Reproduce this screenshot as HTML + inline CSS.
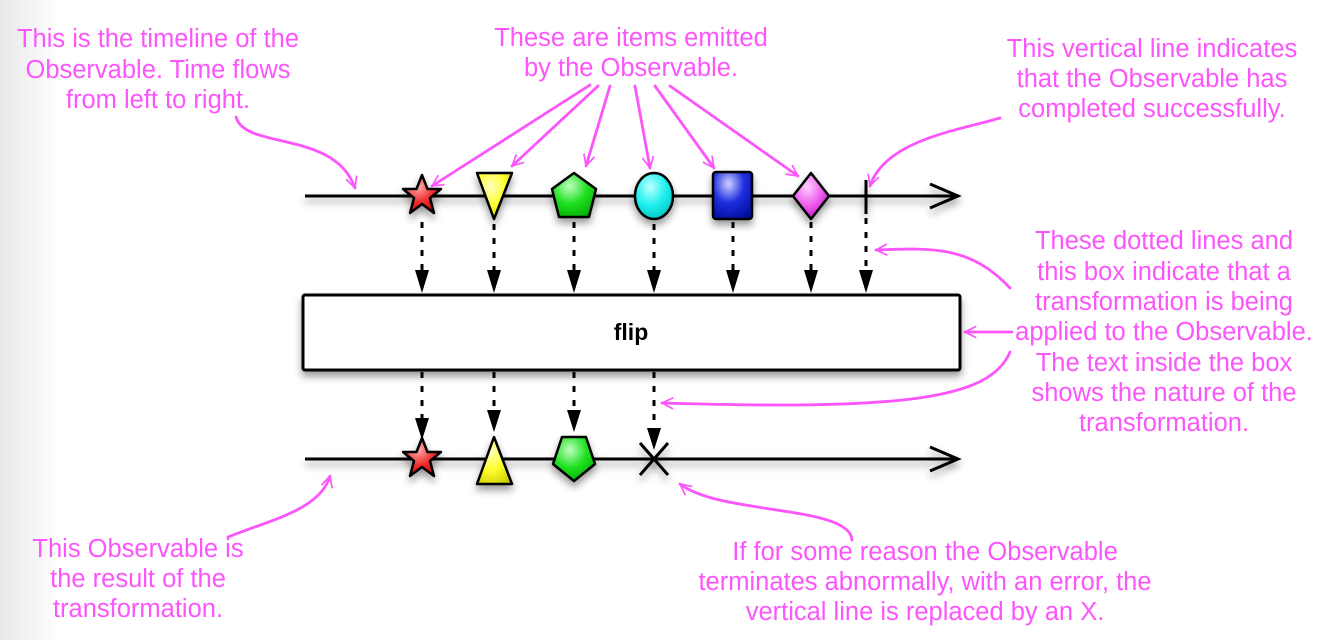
<!DOCTYPE html>
<html><head><meta charset="utf-8"><style>
html,body{margin:0;padding:0;background:#fff}
svg{display:block}
text{font-family:"Liberation Sans",sans-serif}
.p{fill:#fb55fb;font-size:25.5px;text-anchor:middle}
.pa{fill:none;stroke:#fb55fb;stroke-width:2.8;stroke-linecap:round}
.d{stroke:#000;stroke-width:3;stroke-dasharray:6 8}
</style></head><body>
<svg width="1336" height="640" viewBox="0 0 1336 640" xmlns="http://www.w3.org/2000/svg">
<defs>
<linearGradient id="bg" x1="0" x2="1"><stop offset="0" stop-color="#e8e8e8"/><stop offset="1" stop-color="#fff"/></linearGradient>
<radialGradient id="gr" cx="0.4" cy="0.3" r="0.8"><stop offset="0" stop-color="#ffb0b0"/><stop offset="0.5" stop-color="#f03030"/><stop offset="1" stop-color="#c00"/></radialGradient>
<radialGradient id="gy" cx="0.4" cy="0.3" r="0.8"><stop offset="0" stop-color="#ffffc0"/><stop offset="0.5" stop-color="#ffff30"/><stop offset="1" stop-color="#cc0"/></radialGradient>
<radialGradient id="gg" cx="0.4" cy="0.3" r="0.8"><stop offset="0" stop-color="#c0ffc0"/><stop offset="0.5" stop-color="#20e020"/><stop offset="1" stop-color="#0a0"/></radialGradient>
<radialGradient id="gc" cx="0.4" cy="0.3" r="0.8"><stop offset="0" stop-color="#c0ffff"/><stop offset="0.5" stop-color="#20f0f0"/><stop offset="1" stop-color="#0bb"/></radialGradient>
<radialGradient id="gb" cx="0.4" cy="0.25" r="0.8"><stop offset="0" stop-color="#d0d0ff"/><stop offset="0.5" stop-color="#2030e0"/><stop offset="1" stop-color="#0010a0"/></radialGradient>
<radialGradient id="gm" cx="0.4" cy="0.3" r="0.8"><stop offset="0" stop-color="#ffd0ff"/><stop offset="0.5" stop-color="#f060f0"/><stop offset="1" stop-color="#b0b"/></radialGradient>
<marker id="m" viewBox="0 0 20 20" refX="18" refY="10" markerWidth="14" markerHeight="14" markerUnits="userSpaceOnUse" orient="auto"><path d="M2,2 L18,10 L2,18" fill="none" stroke="#fb55fb" stroke-width="2.4"/></marker>
<filter id="sh" x="-20%" y="-20%" width="140%" height="160%"><feDropShadow dx="0" dy="5" stdDeviation="4" flood-opacity="0.4"/></filter>
</defs>
<rect width="1336" height="640" fill="#fff"/>
<rect width="60" height="640" fill="url(#bg)"/>

<g filter="url(#sh)">
<line x1="305" y1="196" x2="956" y2="196" stroke="#000" stroke-width="3"/>
<path d="M930,184 L958,196 L930,208" fill="none" stroke="#000" stroke-width="3"/>
<line x1="305" y1="459" x2="956" y2="459" stroke="#000" stroke-width="3"/>
<path d="M930,447 L958,459 L930,471" fill="none" stroke="#000" stroke-width="3"/>
</g>

<g>
<line class="d" x1="422" y1="222" x2="422" y2="272"/>
<line class="d" x1="494" y1="224" x2="494" y2="272"/>
<line class="d" x1="574" y1="222" x2="574" y2="272"/>
<line class="d" x1="654" y1="224" x2="654" y2="272"/>
<line class="d" x1="733" y1="222" x2="733" y2="272"/>
<line class="d" x1="811" y1="222" x2="811" y2="272"/>
<line class="d" x1="866" y1="218" x2="866" y2="272"/>
<g fill="#000">
<path d="M415,270 L429,270 L422,293Z"/><path d="M487,270 L501,270 L494,293Z"/><path d="M567,270 L581,270 L574,293Z"/><path d="M647,270 L661,270 L654,293Z"/><path d="M726,270 L740,270 L733,293Z"/><path d="M804,270 L818,270 L811,293Z"/><path d="M859,270 L873,270 L866,293Z"/>
</g>
<line class="d" x1="422" y1="372" x2="422" y2="418"/>
<line class="d" x1="494" y1="372" x2="494" y2="410"/>
<line class="d" x1="574" y1="372" x2="574" y2="410"/>
<line class="d" x1="654" y1="372" x2="654" y2="430"/>
<g fill="#000">
<path d="M415,418 L429,418 L422,440Z"/><path d="M487,410 L501,410 L494,432Z"/><path d="M567,410 L581,410 L574,432Z"/><path d="M647,428 L661,428 L654,450Z"/>
</g>
</g>

<rect x="303" y="295" width="657" height="75" rx="2" fill="#fff" stroke="#000" stroke-width="3" filter="url(#sh)"/>
<text x="631" y="340" font-size="23" font-weight="bold" text-anchor="middle">flip</text>

<g stroke="#000" stroke-width="2.5" stroke-linejoin="round" filter="url(#sh)">
<path d="M422,175 L427.5,189 L441,189 L430,198 L434,213 L422,204 L410,213 L414,198 L403,189 L416.5,189Z" fill="url(#gr)"/>
<path d="M477,173 L512,173 L494,219Z" fill="url(#gy)"/>
<path d="M574,173 L596,189 L589,217 L559,217 L552,189Z" fill="url(#gg)"/>
<ellipse cx="654" cy="196" rx="19" ry="23" fill="url(#gc)"/>
<rect x="713" y="172" width="39" height="47" rx="3" fill="url(#gb)"/>
<path d="M811,173 L829,196 L811,219 L793,196Z" fill="url(#gm)"/>
<line x1="866" y1="180" x2="866" y2="214" stroke-width="3"/>
</g>

<g stroke="#000" stroke-width="2.5" stroke-linejoin="round" filter="url(#sh)">
<path d="M422,438 L427.5,452 L441,452 L430,461 L434,476 L422,467 L410,476 L414,461 L403,452 L416.5,452Z" fill="url(#gr)"/>
<path d="M494,437 L512,484 L477,484Z" fill="url(#gy)"/>
<path d="M562,437 L586,437 L595,464 L574,481 L553,464Z" fill="url(#gg)"/>
<path d="M640,443 L668,475 M668,443 L640,475" stroke-width="3"/>
</g>

<g class="pa" marker-end="url(#m)">
<path class="pa" d="M236,117 C245,150 335,130 355,188"/>
<path class="pa" d="M590,85 L432,186"/>
<path class="pa" d="M598,86 L512,166"/>
<path class="pa" d="M610,86 L586,166"/>
<path class="pa" d="M635,86 L650,168"/>
<path class="pa" d="M655,86 L714,168"/>
<path class="pa" d="M670,86 L798,176"/>
<path class="pa" d="M1000,118 C960,130 885,140 870,186"/>
<path class="pa" d="M1010,288 C970,245 930,248 876,250"/>
<path class="pa" d="M1012,332 L965,332"/>
<path class="pa" d="M1010,352 C990,400 900,410 662,403"/>
<path class="pa" d="M228,537 C270,520 320,510 330,476"/>
<path class="pa" d="M852,540 C850,505 720,515 680,484"/>
</g>

<text class="p" x="158" y="47">This is the timeline of the</text>
<text class="p" x="158" y="78">Observable. Time flows</text>
<text class="p" x="158" y="108">from left to right.</text>

<text class="p" x="631" y="46">These are items emitted</text>
<text class="p" x="631" y="76">by the Observable.</text>

<text class="p" x="1152" y="57">This vertical line indicates</text>
<text class="p" x="1152" y="87">that the Observable has</text>
<text class="p" x="1152" y="117">completed successfully.</text>

<text class="p" x="1164" y="249">These dotted lines and</text>
<text class="p" x="1164" y="280">this box indicate that a</text>
<text class="p" x="1164" y="310">transformation is being</text>
<text class="p" x="1164" y="340">applied to the Observable.</text>
<text class="p" x="1164" y="371">The text inside the box</text>
<text class="p" x="1164" y="401">shows the nature of the</text>
<text class="p" x="1164" y="431">transformation.</text>

<text class="p" x="138" y="557">This Observable is</text>
<text class="p" x="138" y="587">the result of the</text>
<text class="p" x="138" y="617">transformation.</text>

<text class="p" x="925" y="560">If for some reason the Observable</text>
<text class="p" x="925" y="590">terminates abnormally, with an error, the</text>
<text class="p" x="925" y="620">vertical line is replaced by an X.</text>
</svg>
</body></html>
